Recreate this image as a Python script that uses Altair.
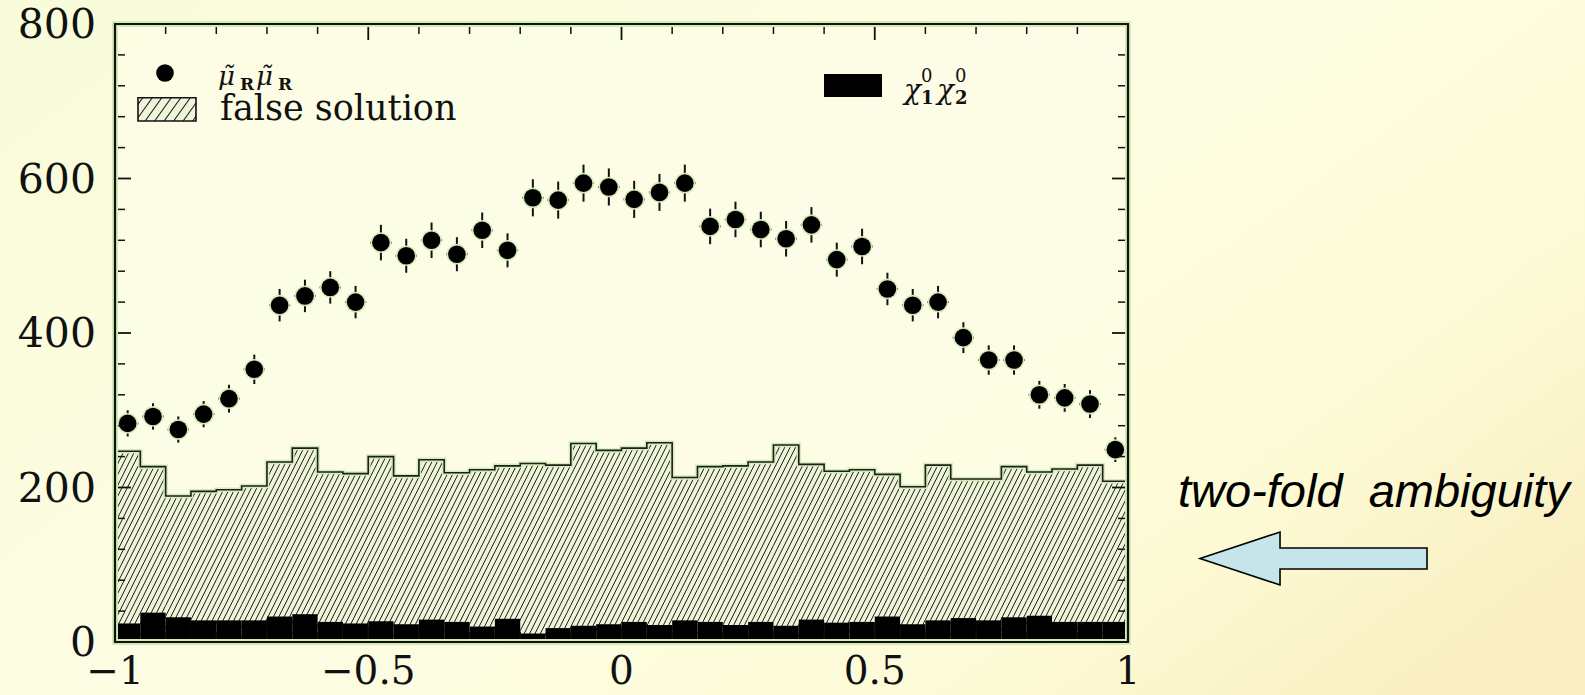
import math

import altair as alt
import pandas as pd

# ---------------------------------------------------------------------------
# Data: 40 bins of width 0.05 over [-1, 1]
# ---------------------------------------------------------------------------
BIN_W = 0.05
bin_lo = [round(-1 + BIN_W * i, 2) for i in range(40)]

# smuon-pair signal (points with statistical errors)
mu_counts = [283, 292, 275, 295, 315, 353, 436, 448, 459, 440,
             517, 500, 520, 502, 533, 507, 575, 572, 594, 589,
             573, 582, 594, 538, 547, 534, 522, 540, 495, 512,
             457, 436, 440, 394, 365, 365, 320, 316, 308, 249]
mu_errors = [17, 17, 17, 17, 18, 19, 21, 21, 21, 21,
             23, 22, 23, 22, 23, 22, 24, 24, 24, 24,
             24, 24, 24, 23, 23, 23, 23, 23, 22, 23,
             21, 21, 21, 20, 19, 19, 18, 18, 18, 16]

# false-solution histogram (hatched)
false_counts = [247, 227, 189, 195, 197, 202, 233, 251, 220, 218,
                240, 215, 236, 219, 223, 228, 231, 229, 257, 248,
                251, 258, 213, 227, 228, 233, 255, 230, 221, 223,
                217, 201, 229, 211, 211, 227, 220, 224, 229, 208]

# neutralino-pair background (solid black)
chi_counts = [24, 38, 32, 28, 28, 28, 33, 36, 26, 24,
              27, 23, 29, 26, 20, 30, 11, 18, 21, 23,
              26, 22, 28, 26, 22, 26, 21, 29, 25, 26,
              33, 23, 28, 31, 28, 32, 34, 26, 26, 26]

x_major = [-1, -0.5, 0, 0.5, 1]
x_labels = ["\u22121", "\u22120.5", "0", "0.5", "1"]
x_minor = [-0.9, -0.8, -0.7, -0.6, -0.4, -0.3, -0.2, -0.1,
           0.1, 0.2, 0.3, 0.4, 0.6, 0.7, 0.8, 0.9]
y_major = [0, 200, 400, 600, 800]
y_labels = ["0", "200", "400", "600", "800"]
y_minor = [40, 80, 120, 160, 240, 280, 320, 360,
           440, 480, 520, 560, 640, 680, 720, 760]

# ---------------------------------------------------------------------------
# Geometry of the plot area
# ---------------------------------------------------------------------------
W, H = 1013, 618
PAD = {"left": 115, "top": 24, "right": 457, "bottom": 53}
X_DOM = [-1, 1]
Y_DOM = [0, 800]

xs = alt.Scale(domain=X_DOM, nice=False, zero=False)
ys = alt.Scale(domain=Y_DOM, nice=False, zero=False)


def px_to_x(px):
    return X_DOM[0] + px / W * (X_DOM[1] - X_DOM[0])


def up_to_y(u):
    """pixel height above the bottom frame -> data y"""
    return Y_DOM[0] + u / H * (Y_DOM[1] - Y_DOM[0])


def hatch(boxes, spacing, slope):
    """Diagonal '/' hatch lines clipped to boxes (xl, xr, u_lo, u_hi) in px."""
    rows = []
    for xl, xr, u_lo, u_hi in boxes:
        k0 = math.ceil((xl - u_hi / slope) / spacing)
        k1 = math.floor((xr - u_lo / slope) / spacing)
        for k in range(k0, k1 + 1):
            c = k * spacing
            a = max(u_lo, (xl - c) * slope)
            b = min(u_hi, (xr - c) * slope)
            if b - a > 0.4:
                rows.append({"x": px_to_x(c + a / slope), "y": up_to_y(a),
                             "x2": px_to_x(c + b / slope), "y2": up_to_y(b)})
    return pd.DataFrame(rows)


hist = pd.DataFrame({
    "lo": bin_lo,
    "hi": [round(v + BIN_W, 2) for v in bin_lo],
    "false": false_counts,
    "chi": chi_counts,
    "base": [0] * len(bin_lo),
})

pts = pd.DataFrame({
    "xc": [v + BIN_W / 2 for v in bin_lo],
    "xl": [v + BIN_W / 2 - 0.021 for v in bin_lo],
    "xr": [v + BIN_W / 2 + 0.021 for v in bin_lo],
    "val": mu_counts,
    "elo": [c - e for c, e in zip(mu_counts, mu_errors)],
    "ehi": [c + e for c, e in zip(mu_counts, mu_errors)],
})

step = pd.DataFrame({
    "x": bin_lo + [X_DOM[1]],
    "y": false_counts + [false_counts[-1]],
})

sx = W / (X_DOM[1] - X_DOM[0])
sy = H / (Y_DOM[1] - Y_DOM[0])
hist_boxes = [((lo - X_DOM[0]) * sx, (lo + BIN_W - X_DOM[0]) * sx, 0.0, v * sy)
              for lo, v in zip(bin_lo, false_counts)]
hatch_main = hatch(hist_boxes, spacing=5.4, slope=2.0)

# legend swatch for the hatched histogram (pixel box inside the frame)
LEG_BOX = (23, 81, 73.7, 97)  # left, right, top, bottom (px from top-left)
hatch_leg = hatch([(LEG_BOX[0], LEG_BOX[1], H - LEG_BOX[3], H - LEG_BOX[2])],
                  spacing=9.5, slope=1.4)

one = pd.DataFrame({"k": [0]})
INK = "#111111"
GLOW = "#d3ebb6"
SERIF = "DejaVu Serif"

# ---------------------------------------------------------------------------
# Layers
# ---------------------------------------------------------------------------
background = alt.Chart(one).mark_rect(
    fill=alt.LinearGradient(
        gradient="linear", x1=0, y1=0.2, x2=1, y2=0.8,
        stops=[alt.GradientStop(color="#f9fcda", offset=0.0),
               alt.GradientStop(color="#fdfde4", offset=0.45),
               alt.GradientStop(color="#fdfbd6", offset=0.8),
               alt.GradientStop(color="#f9efc2", offset=1.0)]),
).encode(x=alt.value(-PAD["left"]), x2=alt.value(W + PAD["right"]),
         y=alt.value(-PAD["top"]), y2=alt.value(H + PAD["bottom"]))

plot_bg = alt.Chart(one).mark_rect(fill="#fefee9", opacity=0.6).encode(
    x=alt.value(0), x2=alt.value(W), y=alt.value(0), y2=alt.value(H))

hatch_fill = alt.Chart(hist).mark_rect(fill="#eff5d9").encode(
    x=alt.X("lo:Q", scale=xs, axis=None), x2="hi:Q",
    y=alt.Y("false:Q", scale=ys, axis=None), y2="base:Q")

hatch_lines = alt.Chart(hatch_main).mark_rule(color="#1b1b1b", strokeWidth=1).encode(
    x=alt.X("x:Q", scale=xs, axis=None), x2="x2:Q",
    y=alt.Y("y:Q", scale=ys, axis=None), y2="y2:Q")

outline_glow = alt.Chart(step).mark_line(
    interpolate="step-after", color=GLOW, strokeWidth=4.5).encode(
    x=alt.X("x:Q", scale=xs, axis=None), y=alt.Y("y:Q", scale=ys, axis=None),
    order="x:Q")

hatch_outline = alt.Chart(step).mark_line(
    interpolate="step-after", color="#1e1e1e", strokeWidth=1.6).encode(
    x=alt.X("x:Q", scale=xs, axis=None), y=alt.Y("y:Q", scale=ys, axis=None),
    order="x:Q")

chi_bars = alt.Chart(hist).mark_rect(fill="#000000").encode(
    x=alt.X("lo:Q", scale=xs, axis=None), x2="hi:Q",
    y=alt.Y("chi:Q", scale=ys, axis=None), y2="base:Q")

err_v = alt.Chart(pts).mark_rule(color=INK, strokeWidth=2).encode(
    x=alt.X("xc:Q", scale=xs, axis=None),
    y=alt.Y("elo:Q", scale=ys, axis=None), y2="ehi:Q")

err_h = alt.Chart(pts).mark_rule(color=INK, strokeWidth=2).encode(
    x=alt.X("xl:Q", scale=xs, axis=None), x2="xr:Q",
    y=alt.Y("val:Q", scale=ys, axis=None))

dot_glow = alt.Chart(pts).mark_point(
    filled=True, shape="circle", size=430, color=GLOW, opacity=1).encode(
    x=alt.X("xc:Q", scale=xs, axis=None),
    y=alt.Y("val:Q", scale=ys, axis=None))

dots = alt.Chart(pts).mark_point(
    filled=True, shape="circle", size=310, color="#000000", opacity=1).encode(
    x=alt.X("xc:Q", scale=xs, axis=None),
    y=alt.Y("val:Q", scale=ys, axis=None))


def tick_layer(values, axis, length, width):
    df = pd.DataFrame({"v": values})
    base = alt.Chart(df).mark_rule(color=INK, strokeWidth=width)
    if axis == "x":
        enc = dict(x=alt.X("v:Q", scale=xs, axis=None))
        return [base.encode(**enc, y=alt.value(H), y2=alt.value(H - length)),
                base.encode(**enc, y=alt.value(0), y2=alt.value(length))]
    enc = dict(y=alt.Y("v:Q", scale=ys, axis=None))
    return [base.encode(**enc, x=alt.value(0), x2=alt.value(length)),
            base.encode(**enc, x=alt.value(W), x2=alt.value(W - length))]


ticks = (tick_layer(x_major, "x", 16, 1.8) + tick_layer(x_minor, "x", 10, 1.5)
         + tick_layer(y_major, "y", 16, 1.8) + tick_layer(y_minor, "y", 10, 1.5))

# tick labels
x_tick_labels = alt.Chart(pd.DataFrame({"v": x_major, "t": x_labels})).mark_text(
    font=SERIF, fontSize=39, color=INK, align="center", baseline="alphabetic").encode(
    x=alt.X("v:Q", scale=xs, axis=None), y=alt.value(H + 42), text="t:N")

y_tick_labels = alt.Chart(pd.DataFrame({"v": y_major, "t": y_labels})).mark_text(
    font=SERIF, fontSize=41, color=INK, align="right", baseline="alphabetic", dy=14).encode(
    y=alt.Y("v:Q", scale=ys, axis=None), x=alt.value(-19), text="t:N")

frame_glow = alt.Chart(one).mark_rect(fillOpacity=0, stroke=GLOW, strokeWidth=6).encode(
    x=alt.value(0), x2=alt.value(W), y=alt.value(0), y2=alt.value(H))

frame = alt.Chart(one).mark_rect(fillOpacity=0, stroke=INK, strokeWidth=2.2).encode(
    x=alt.value(0), x2=alt.value(W), y=alt.value(0), y2=alt.value(H))

# ---------------------------------------------------------------------------
# In-frame legend
# ---------------------------------------------------------------------------
leg_dot = alt.Chart(one).mark_point(
    filled=True, shape="circle", size=310, color="#000000", opacity=1).encode(
    x=alt.value(50), y=alt.value(49))


def label(text, x, y, size, style="normal", weight="normal", font=SERIF):
    return alt.Chart(one).mark_text(
        text=text, font=font, fontSize=size, fontStyle=style, fontWeight=weight,
        align="left", baseline="alphabetic", color=INK).encode(
        x=alt.value(x), y=alt.value(y))


mu_label = [
    label("\u03bc\u0303", 103, 61, 26, style="italic"),
    label("R", 125, 66, 17, weight="bold"),
    label("\u03bc\u0303", 141, 61, 26, style="italic"),
    label("R", 163, 66, 17, weight="bold"),
]

leg_box_fill = alt.Chart(one).mark_rect(fill="#eff5d9").encode(
    x=alt.value(LEG_BOX[0]), x2=alt.value(LEG_BOX[1]),
    y=alt.value(LEG_BOX[2]), y2=alt.value(LEG_BOX[3]))

leg_hatch = alt.Chart(hatch_leg).mark_rule(color="#1b1b1b", strokeWidth=1.1).encode(
    x=alt.X("x:Q", scale=xs, axis=None), x2="x2:Q",
    y=alt.Y("y:Q", scale=ys, axis=None), y2="y2:Q")

leg_box_edge = alt.Chart(one).mark_rect(fillOpacity=0, stroke=INK, strokeWidth=1.6).encode(
    x=alt.value(LEG_BOX[0]), x2=alt.value(LEG_BOX[1]),
    y=alt.value(LEG_BOX[2]), y2=alt.value(LEG_BOX[3]))

false_label = label("false solution", 105, 96, 35)

chi_box = alt.Chart(one).mark_rect(fill="#000000").encode(
    x=alt.value(709), x2=alt.value(767), y=alt.value(50), y2=alt.value(73))

chi_label = [
    label("\u03c7", 789, 75, 28, style="italic"),
    label("0", 806, 58, 18),
    label("1", 806, 80, 18, weight="bold"),
    label("\u03c7", 822, 75, 28, style="italic"),
    label("0", 840, 58, 18),
    label("2", 840, 80, 18, weight="bold"),
]

# ---------------------------------------------------------------------------
# Annotation to the right of the frame
# ---------------------------------------------------------------------------
note = alt.Chart(one).mark_text(
    text="two-fold \u00a0ambiguity", font="Liberation Sans", fontSize=47,
    fontStyle="italic", align="left", baseline="alphabetic", color="#000000").encode(
    x=alt.value(1063), y=alt.value(483))

ARROW = ("M-1,0 L-0.295,-0.233 L-0.295,-0.0925 L1,-0.0925 "
         "L1,0.0925 L-0.295,0.0925 L-0.295,0.233 Z")
arrow = alt.Chart(one).mark_point(
    shape=ARROW, size=227 ** 2, filled=True, fill="#c6e5ea", stroke="#000000",
    strokeWidth=1.6, opacity=1, fillOpacity=1).encode(
    x=alt.value(1198.5), y=alt.value(534.5))

chart = alt.layer(
    background, plot_bg, hatch_fill, hatch_lines, chi_bars, outline_glow,
    hatch_outline, err_v, err_h, dot_glow, dots, *ticks, frame_glow, frame,
    x_tick_labels, y_tick_labels,
    leg_dot, *mu_label, leg_box_fill, leg_hatch, leg_box_edge, false_label,
    chi_box, *chi_label, note, arrow,
).properties(
    width=W, height=H, padding=PAD,
    autosize=alt.AutoSizeParams(type="none"),
    background="#fcfbdc",
).configure_view(strokeWidth=0)

chart.save("out.html", embed_options={"renderer": "svg", "actions": False})
